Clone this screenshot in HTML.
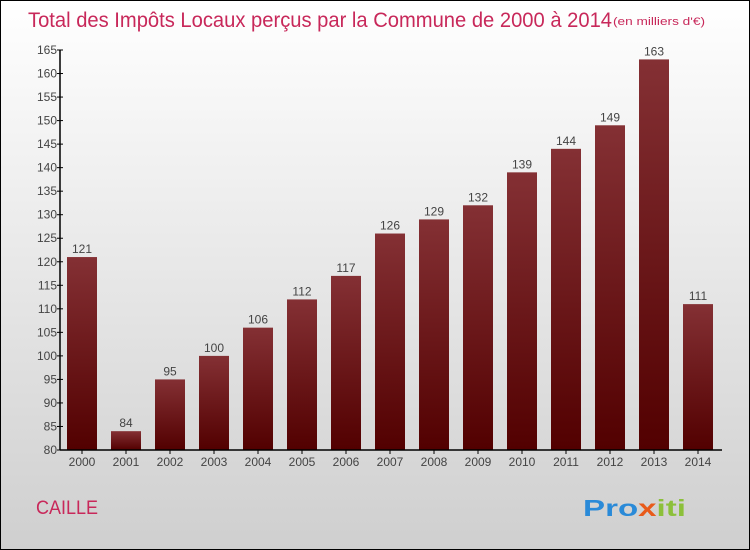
<!DOCTYPE html>
<html><head><meta charset="utf-8"><style>
body{margin:0}
#c{width:750px;height:550px;position:relative;box-sizing:border-box;border:1px solid #000;background:linear-gradient(#ffffff,#cfcfcf);font-family:"Liberation Sans",sans-serif;overflow:hidden}
</style></head><body>
<div id="c">
<svg width="750" height="550" style="position:absolute;left:-1px;top:-1px">
<defs><linearGradient id="g" x1="0" y1="0" x2="0" y2="1"><stop offset="0" stop-color="#843034"/><stop offset="1" stop-color="#520000"/></linearGradient></defs>
<text x="28" y="27" font-size="21" fill="#c8285a" textLength="584" lengthAdjust="spacingAndGlyphs">Total des Impôts Locaux perçus par la Commune de 2000 à 2014</text>
<text x="613" y="25" font-size="11" fill="#c8285a" textLength="92" lengthAdjust="spacingAndGlyphs">(en milliers d'€)</text>
<g id="plot"></g>
<text x="36" y="514" font-size="19" fill="#c8285a" textLength="62" lengthAdjust="spacingAndGlyphs">CAILLE</text>
<text x="583" y="516" font-size="23" font-weight="bold" fill="#2a8ad8" textLength="103" lengthAdjust="spacingAndGlyphs">Pro<tspan fill="#e85a1a">x</tspan><tspan fill="#8cc03a">iti</tspan></text>
</svg>
</div>
<script>
const years=["2000","2001","2002","2003","2004","2005","2006","2007","2008","2009","2010","2011","2012","2013","2014"];
const values=[121,84,95,100,106,112,117,126,129,132,139,144,149,163,111];
const ticks=[80,85,90,95,100,105,110,115,120,125,130,135,140,145,150,155,160,165];
const ns="http://www.w3.org/2000/svg",p=document.getElementById("plot");
const y=v=>450-(v-80)*400/85, x=i=>82+i*44;
function mk(t,a,txt){const e=document.createElementNS(ns,t);for(const k in a)e.setAttribute(k,a[k]);if(txt!=null)e.textContent=txt;p.appendChild(e);return e;}
values.forEach((v,i)=>{
 const r=mk("rect",{x:x(i)-15,y:y(v),width:30,height:450-y(v),fill:"url(#g)"});
 
 
 const l=mk("text",{x:x(i),y:y(v)-4,"font-size":12,fill:"#444","text-anchor":"middle"},v);
 
 
 const t=mk("text",{x:x(i),y:466,"font-size":12,fill:"#444","text-anchor":"middle"},years[i]);
 
 
 mk("line",{x1:x(i),x2:x(i),y1:450,y2:454,stroke:"#000"});
});
ticks.forEach(v=>{
 mk("line",{x1:57,x2:63,y1:y(v),y2:y(v),stroke:"#000"});
 const t=mk("text",{x:57,y:y(v)+4,"font-size":12,fill:"#444","text-anchor":"end"},v);
 
 
});
const ya=mk("line",{x1:60,x2:60,y1:y(165),y2:450,stroke:"#000","stroke-width":1.5});


const xa=mk("line",{x1:60,x2:722,y1:450,y2:450,stroke:"#000","stroke-width":1.5});


</script>
</body></html>
